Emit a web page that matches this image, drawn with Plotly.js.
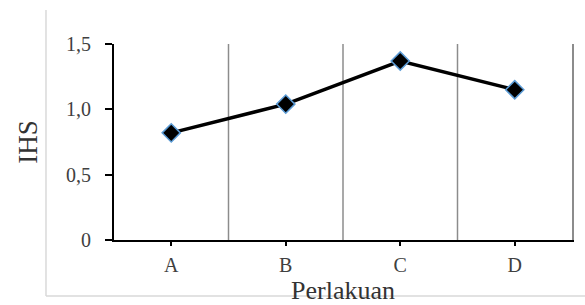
<!DOCTYPE html>
<html><head><meta charset="utf-8">
<script src="https://cdn.plot.ly/plotly-3.0.1.min.js"></script>
<style>html,body{margin:0;padding:0;background:#fff}#chart{width:585px;height:305px}</style>
</head><body><div id="chart"></div>
<script>
const categories = ['A', 'B', 'C', 'D'];
const ihs = [0.82, 1.04, 1.37, 1.15];
const yTickVals = [0, 0.5, 1.0, 1.5];
const yTickText = ['0', '0,5', '1,0', '1,5'];

const xIdx = categories.map((c, i) => i);
const boundaries = categories.map((c, i) => i + 0.5);
const serif = 'Liberation Serif';

const trace = {
  x: xIdx, y: ihs, type: 'scatter', mode: 'lines+markers',
  line: {color: '#000', width: 3.5},
  marker: {symbol: 'diamond', size: 14, color: '#000', line: {color: '#5B9BD5', width: 1.5}},
  hoverinfo: 'skip', cliponaxis: false
};
// invisible companion trace so the right-hand frame axis is drawn
const frameTrace = {
  x: xIdx, y: ihs, type: 'scatter', mode: 'markers', yaxis: 'y2',
  marker: {opacity: 0}, hoverinfo: 'skip', showlegend: false
};

const gridShapes = boundaries.slice(0, -1).map(b => ({
  type: 'line', xref: 'x', yref: 'paper', x0: b, x1: b, y0: 0, y1: 1,
  line: {color: '#8c8c8c', width: 1.5}, layer: 'below'
}));

const layout = {
  width: 585, height: 305,
  margin: {l: 114, r: 13, t: 44, b: 65},
  paper_bgcolor: '#fff', plot_bgcolor: 'rgba(0,0,0,0)',
  showlegend: false,
  separators: ',.',
  font: {family: serif, color: '#404040', size: 20},
  xaxis: {
    range: [-0.5, 3.5], fixedrange: true,
    tickvals: xIdx, ticktext: categories,
    tickfont: {family: serif, size: 20, color: '#404040'},
    showgrid: false, zeroline: false,
    showline: true, linecolor: '#000', linewidth: 2,
    ticks: 'outside', ticklen: 4, tickwidth: 2, tickcolor: '#000',
    ticklabelstandoff: 2,
    title: {text: 'Perlakuan', font: {family: serif, size: 26, color: '#333'}, standoff: 2}
  },
  yaxis: {
    range: [0, 1.5], fixedrange: true,
    tickvals: yTickVals, ticktext: yTickText,
    tickfont: {family: serif, size: 20, color: '#404040'},
    showgrid: false, zeroline: false,
    showline: true, linecolor: '#000', linewidth: 2,
    ticks: 'outside', ticklen: 7, tickwidth: 2, tickcolor: '#000',
    ticklabelstandoff: 10,
    title: {text: 'IHS', font: {family: serif, size: 27, color: '#333'}, standoff: 21}
  },
  yaxis2: {
    overlaying: 'y', side: 'right', range: [0, 1.5], fixedrange: true,
    showline: true, linecolor: '#8c8c8c', linewidth: 1.5,
    showgrid: false, zeroline: false, showticklabels: false, ticks: ''
  },
  shapes: gridShapes.concat([
    {type: 'line', xref: 'paper', yref: 'paper', x0: -0.1485, x1: -0.1485, y0: 1.173, y1: -0.2857, line: {color: '#d9d9d9', width: 1.5}, layer: 'below'},
    {type: 'line', xref: 'paper', yref: 'paper', x0: -0.1485, x1: 1.03, y0: -0.2857, y1: -0.2857, line: {color: '#d9d9d9', width: 1.5}, layer: 'below'}
  ])
};

Plotly.newPlot('chart', [frameTrace, trace], layout, {staticPlot: true, displayModeBar: false});
</script></body></html>
